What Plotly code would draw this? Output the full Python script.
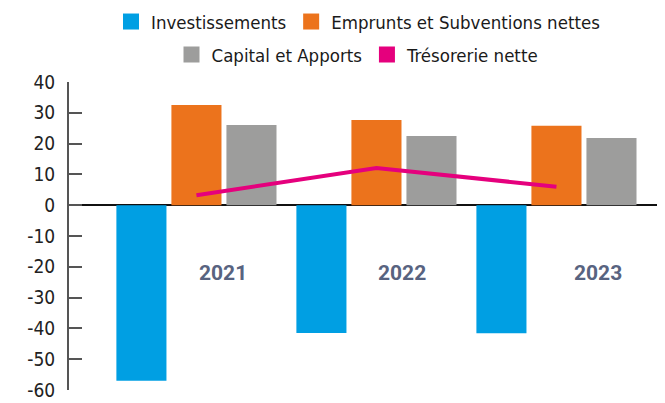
import plotly.graph_objects as go

years = ["2021", "2022", "2023"]
investissements = [-57.0, -41.5, -41.6]
emprunts = [32.5, 27.7, 25.8]
capital = [26.0, 22.5, 21.8]
tresorerie = [3.2, 12.1, 6.0]

names = ["Investissements", "Emprunts et Subventions nettes", "Capital et Apports", "Trésorerie nette"]
colors = ["#009FE3", "#EC731C", "#9D9D9C", "#E5007D"]
year_label_offsets = [0.147, 0.142, 0.233]

tick_vals = [40, 30, 20, 10, 0, -10, -20, -30, -40, -50, -60]
tick_text = ["40", "30", "20", "10", "0", "-10", "-20", "-30", "-40", "-50", "-60"]

leg_font = "Liberation Sans Narrow, DejaVu Sans Condensed, Arial Narrow, sans-serif"

fig = go.Figure()
for vals, col in zip([investissements, emprunts, capital], colors[:3]):
    fig.add_trace(go.Bar(x=years, y=vals, marker=dict(color=col, line=dict(width=0)),
                         showlegend=False))
fig.add_trace(go.Scatter(x=years, y=tresorerie, mode="lines",
                         line=dict(color=colors[3], width=4), showlegend=False))

# legend entries (square swatches)
for i, (n, c) in enumerate(zip(names, colors)):
    fig.add_trace(go.Scatter(x=[None], y=[None], mode="markers", name=n,
                             marker=dict(symbol="square", size=16, color=c),
                             legend="legend" if i < 2 else "legend2"))

OFF = 8  # page body margin
W, H = 665 - OFF, 403 - OFF
L, R, T, B = 69 - OFF, 0, 82 - OFF, 13
ph = H - T - B
pw = W - L - R

def py(p):
    return (H - B - (p - OFF)) / ph

def px(p):
    return (p - OFF - L) / pw

for i, y in enumerate(years):
    fig.add_annotation(x=i + year_label_offsets[i], y=-22, xref="x", yref="y", text=y,
                       showarrow=False,
                       font=dict(family="Roboto, Arial, sans-serif", size=21, color="#586380",
                                 weight="bold"))

fig.update_layout(
    width=W, height=H,
    margin=dict(l=L, r=R, t=T, b=B, autoexpand=False),
    paper_bgcolor="white", plot_bgcolor="white",
    barmode="group", bargap=0.083, bargroupgap=0.09,
    legend=dict(orientation="h", x=px(358), xanchor="center", y=py(22), yanchor="middle",
                font=dict(family=leg_font, size=18.5, color="#1A1A1A"), bgcolor="rgba(0,0,0,0)"),
    legend2=dict(orientation="h", x=px(358), xanchor="center", y=py(55), yanchor="middle",
                 font=dict(family=leg_font, size=18.5, color="#1A1A1A"), bgcolor="rgba(0,0,0,0)"),
    xaxis=dict(type="category", range=[-0.708, 2.603], showticklabels=False, showgrid=False,
               zeroline=False, showline=False, ticks=""),
    yaxis=dict(range=[-60, 40], tickmode="array", tickvals=tick_vals, ticktext=tick_text,
               showgrid=False,
               ticks="inside", ticklen=13, tickwidth=2, tickcolor="#555555",
               showline=True, linecolor="#555555", linewidth=2,
               zeroline=True, zerolinecolor="#111111", zerolinewidth=1.5,
               ticklabelstandoff=8,
               tickfont=dict(family=leg_font, size=19, color="#222222")),
)

fig.write_html("out.html")
